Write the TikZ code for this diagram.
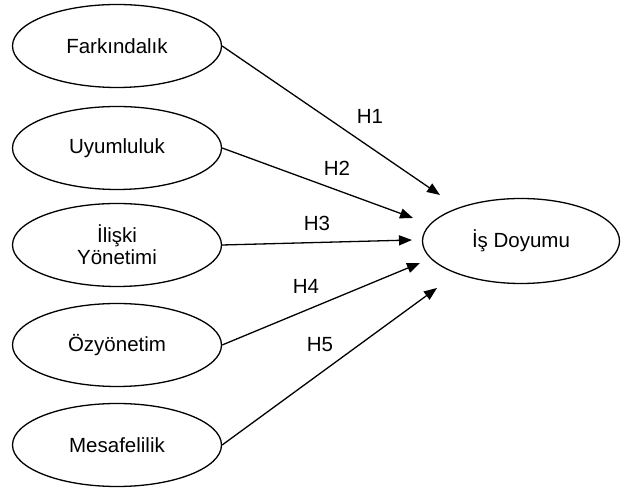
\documentclass[tikz,border=0pt]{standalone}
\usepackage{fontspec}
\setmainfont{Liberation Sans}
\usetikzlibrary{shapes.geometric,arrows.meta}
\begin{document}
\begin{tikzpicture}[x=1pt,y=1pt,
  construct/.style={draw, ellipse, line width=1.3pt, minimum width=209pt, minimum height=83pt, inner sep=0pt, align=center, font=\fontsize{20.5}{22}\selectfont},
  path/.style={line width=1.3pt, -{Triangle[length=13pt,width=10pt]}},
  hyp/.style={font=\fontsize{20.5}{22}\selectfont}]
\useasboundingbox (0,0) rectangle (621,489);
\node[construct] (fark) at (117,443) {Farkındalık};
\node[construct] (uyum) at (117,341) {Uyumluluk};
\node[construct] (iliski) at (117,244) {İlişki\\Yönetimi};
\node[construct] (ozy) at (117,144) {Özyönetim};
\node[construct] (mesafe) at (117,44) {Mesafelilik};
\node[construct, minimum width=197pt, minimum height=85pt] (doyum) at (521,248) {İş Doyumu};
\coordinate (t1) at (440,294);
\coordinate (t2) at (413,271);
\coordinate (t3) at (412,249);
\coordinate (t4) at (420,226);
\coordinate (t5) at (437,201);
\draw[path] (fark.east) -- (t1);
\draw[path] (uyum.east) -- (t2);
\draw[path] (iliski.east) -- (t3);
\draw[path] (ozy.east) -- (t4);
\draw[path] (mesafe.east) -- (t5);
\node[hyp] (h1) at (370,373) {H1};
\node[hyp] (h2) at (337,321) {H2};
\node[hyp] (h3) at (317,266) {H3};
\node[hyp] (h4) at (306,203) {H4};
\node[hyp] (h5) at (320,144) {H5};
\end{tikzpicture}
\end{document}
